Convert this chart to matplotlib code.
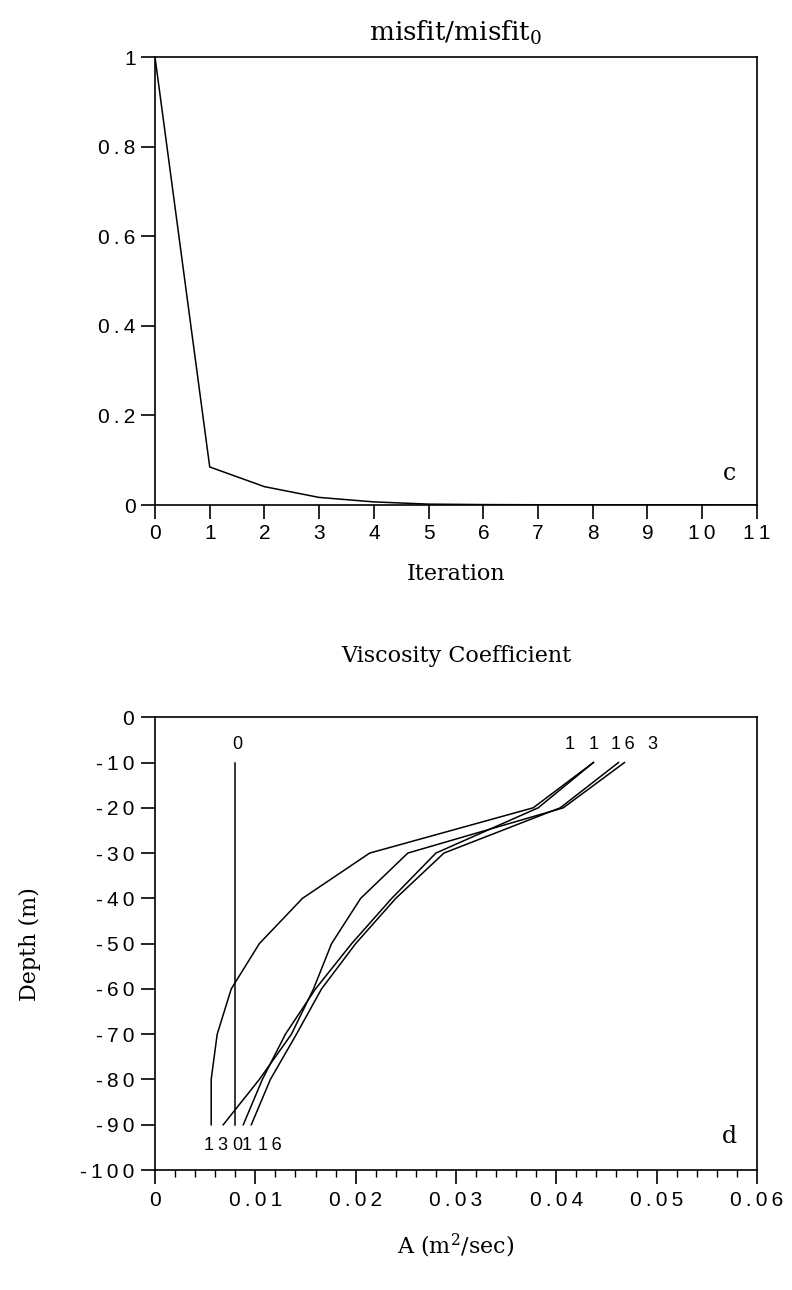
import matplotlib
matplotlib.use("Agg")
import matplotlib.pyplot as plt
from matplotlib.ticker import MultipleLocator, FuncFormatter

plt.rcParams["mathtext.fontset"] = "dejavuserif"

# ---- panel c : misfit vs iteration ----
iteration = [0, 1, 2, 3, 4, 5, 6, 7, 8, 9, 10, 11]
misfit = [1.0, 0.085, 0.041, 0.017, 0.007, 0.002, 0.001, 0.0006, 0.0004, 0.0003, 0.0002, 0.0001]

# ---- panel d : viscosity profiles ----
depth = [-10, -20, -30, -40, -50, -60, -70, -80, -90]
visc_0 = [0.008, 0.008, 0.008, 0.008, 0.008, 0.008, 0.008, 0.008, 0.008]
visc_a = [0.0437, 0.0377, 0.0214, 0.0147, 0.0104, 0.0076, 0.0062, 0.0056, 0.0056]
visc_b = [0.0468, 0.0407, 0.0252, 0.0205, 0.0176, 0.0158, 0.0136, 0.0104, 0.0068]
visc_c = [0.0437, 0.0382, 0.0280, 0.0236, 0.0196, 0.0160, 0.0130, 0.0107, 0.0088]
visc_d = [0.0462, 0.0404, 0.0288, 0.0240, 0.0200, 0.0166, 0.0141, 0.0115, 0.0096]

top_labels = ["1", "1", "16", "3"]
top_label_x = [0.0413, 0.0437, 0.0466, 0.0496]
bot_labels = ["1", "3", "0", "1", "16"]
bot_label_x = [0.0053, 0.0067, 0.0082, 0.0091, 0.0115]

sans = "Liberation Sans"
serif = "DejaVu Serif"


def spaced(v, pos, fmt):
    s = fmt(v)
    return "\u2009".join(s)


fig = plt.figure(figsize=(7.92, 12.9), dpi=100)

# top panel
ax1 = fig.add_axes([0.1957, 0.6085, 0.760, 0.3473])
ax1.plot(iteration, misfit, color="black", lw=1.1)
ax1.set_xlim(0, 11)
ax1.set_ylim(0, 1)
ax1.xaxis.set_major_locator(MultipleLocator(1))
ax1.yaxis.set_major_locator(MultipleLocator(0.2))
ax1.xaxis.set_major_formatter(FuncFormatter(lambda v, p: spaced(v, p, lambda x: "%d" % round(x))))
ax1.yaxis.set_major_formatter(FuncFormatter(lambda v, p: spaced(v, p, lambda x: "0" if abs(x) < 1e-9 else ("1" if abs(x - 1) < 1e-9 else "%.1f" % x))))
ax1.tick_params(direction="out", length=10, width=1.2, labelsize=15, pad=4)
for lab in ax1.get_xticklabels() + ax1.get_yticklabels():
    lab.set_family(sans)
for sp in ax1.spines.values():
    sp.set_linewidth(1.2)
ax1.set_title(r"misfit/misfit$_{0}$", fontsize=19, family=serif, pad=12)
ax1.set_xlabel("Iteration", fontsize=16, family=serif, labelpad=14)
ax1.text(10.5, 0.07, "c", fontsize=17, family=serif, ha="center", va="center")

# bottom panel
ax2 = fig.add_axes([0.1957, 0.093, 0.760, 0.351])
for prof in [visc_0, visc_a, visc_b, visc_c, visc_d]:
    ax2.plot(prof, depth, color="black", lw=1.1)
ax2.set_xlim(0, 0.06)
ax2.set_ylim(-100, 0)
ax2.xaxis.set_major_locator(MultipleLocator(0.01))
ax2.xaxis.set_minor_locator(MultipleLocator(0.002))
ax2.yaxis.set_major_locator(MultipleLocator(10))
ax2.xaxis.set_major_formatter(FuncFormatter(lambda v, p: spaced(v, p, lambda x: "0" if abs(x) < 1e-12 else "%.2f" % x)))
ax2.yaxis.set_major_formatter(FuncFormatter(lambda v, p: spaced(v, p, lambda x: "%d" % round(x))))
ax2.tick_params(which="major", direction="out", length=10, width=1.2, labelsize=15, pad=5)
ax2.tick_params(which="minor", direction="out", length=5, width=1.0)
ax2.tick_params(axis="y", pad=5)
for lab in ax2.get_xticklabels() + ax2.get_yticklabels():
    lab.set_family(sans)
for sp in ax2.spines.values():
    sp.set_linewidth(1.2)
ax2.set_title("Viscosity Coefficient", fontsize=16, family=serif, pad=40)
ax2.set_xlabel(r"A (m$^{2}$/sec)", fontsize=16, family=serif, labelpad=16)
ax2.set_ylabel("Depth (m)", fontsize=16, family=serif, labelpad=28)
ax2.text(0.0082, -6, "0", fontsize=13, family=sans, ha="center", va="center")
for lab, x in zip(top_labels, top_label_x):
    ax2.text(x, -6, "\u2009".join(lab), fontsize=13, family=sans, ha="center", va="center")
for lab, x in zip(bot_labels, bot_label_x):
    ax2.text(x, -94.5, "\u2009".join(lab), fontsize=13, family=sans, ha="center", va="center")
ax2.text(0.0573, -92.5, "d", fontsize=17, family=serif, ha="center", va="center")

fig.savefig("out.png", dpi=100)
